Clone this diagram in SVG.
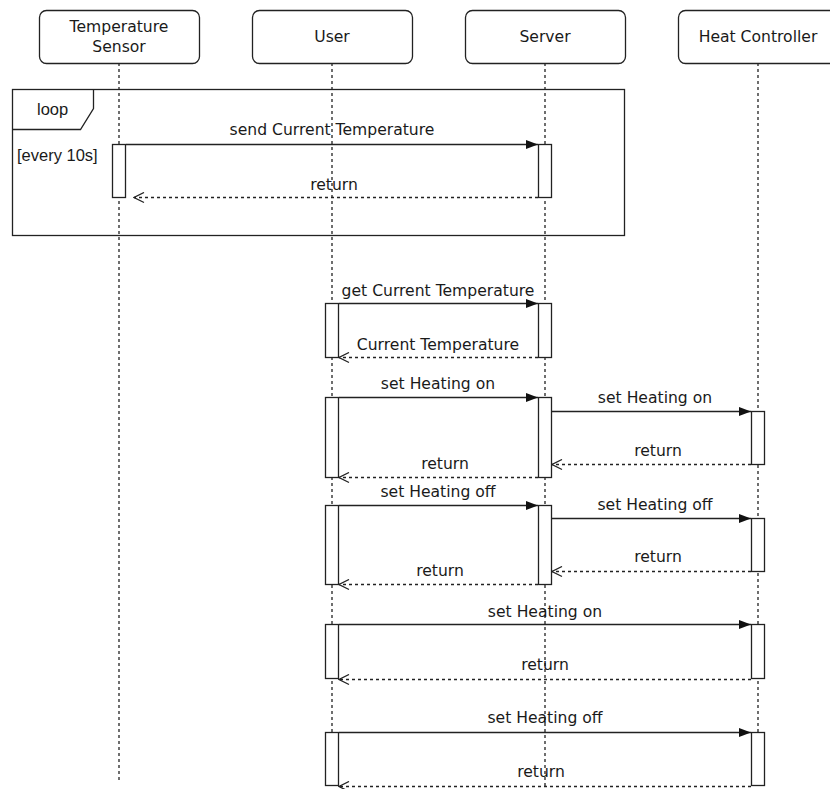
<svg xmlns="http://www.w3.org/2000/svg" width="830" height="789" viewBox="0 0 830 789">
  <style>
    .head { fill: #fff; stroke: #222; stroke-width: 1.3; }
    .lbl { font-family: "DejaVu Sans", Verdana, sans-serif; font-size: 15.6px; fill: #1a1a1a; text-anchor: middle; }
    .frm { font-family: "Liberation Sans", Arial, sans-serif; font-size: 16.5px; fill: #1a1a1a; }
    .life { stroke: #222; stroke-width: 1.3; stroke-dasharray: 3 3; fill: none; }
    .act { fill: #fff; stroke: #222; stroke-width: 1.3; }
    .msg { stroke: #222; stroke-width: 1.4; fill: none; marker-end: url(#solid); }
    .ret { stroke: #222; stroke-width: 1.3; stroke-dasharray: 3 3; fill: none; marker-end: url(#open); }
  </style>
  <defs>
    <marker id="solid" viewBox="0 0 12 9" refX="12" refY="4.5" markerWidth="12" markerHeight="9" markerUnits="userSpaceOnUse" orient="auto">
      <path d="M0,0 L12,4.5 L0,9 Z" fill="#111"/>
    </marker>
    <marker id="open" viewBox="0 0 12 12" refX="11" refY="6" markerWidth="12" markerHeight="12" markerUnits="userSpaceOnUse" orient="auto">
      <path d="M1,1 L11,6 L1,11" fill="none" stroke="#222" stroke-width="1.3"/>
    </marker>
  </defs>
  <rect width="830" height="789" fill="#fff"/>

  <!-- lifelines -->
  <g id="lifelines">
    <line class="life" x1="119" y1="63" x2="119" y2="782"/>
    <line class="life" x1="332" y1="63" x2="332" y2="789"/>
    <line class="life" x1="545" y1="63" x2="545" y2="789"/>
    <line class="life" x1="758" y1="63" x2="758" y2="789"/>
  </g>

  <!-- participants -->
  <g id="temperature-sensor">
    <rect class="head" x="39.5" y="10.5" width="160" height="53" rx="7"/>
    <text class="lbl" x="119" y="32">Temperature</text>
    <text class="lbl" x="119" y="52">Sensor</text>
  </g>
  <g id="user">
    <rect class="head" x="252.5" y="10.5" width="160" height="53" rx="7"/>
    <text class="lbl" x="332" y="42">User</text>
  </g>
  <g id="server">
    <rect class="head" x="465.5" y="10.5" width="160" height="53" rx="7"/>
    <text class="lbl" x="545" y="42">Server</text>
  </g>
  <g id="heat-controller">
    <rect class="head" x="678.5" y="10.5" width="160" height="53" rx="7"/>
    <text class="lbl" x="758" y="42">Heat Controller</text>
  </g>

  <!-- loop combined fragment -->
  <g id="loop-frame">
    <rect x="12.5" y="89.5" width="612" height="146" fill="none" stroke="#222" stroke-width="1.3"/>
    <path d="M12.5,129.5 L80.5,129.5 L93.5,108.5 L93.5,89.5" fill="none" stroke="#222" stroke-width="1.3"/>
    <text class="frm" x="37" y="115">loop</text>
    <text class="frm" x="17" y="161">[every 10s]</text>
  </g>

  <!-- activation bars -->
  <g id="activations">
    <rect class="act" x="112.5" y="144.5" width="13" height="53"/>
    <rect class="act" x="538.5" y="144.5" width="13" height="53"/>

    <rect class="act" x="325.5" y="303.5" width="13" height="54"/>
    <rect class="act" x="538.5" y="303.5" width="13" height="54"/>

    <rect class="act" x="325.5" y="397.5" width="13" height="80"/>
    <rect class="act" x="538.5" y="397.5" width="13" height="80"/>
    <rect class="act" x="751.5" y="411.5" width="13" height="53"/>

    <rect class="act" x="325.5" y="505.5" width="13" height="79"/>
    <rect class="act" x="538.5" y="505.5" width="13" height="79"/>
    <rect class="act" x="751.5" y="518.5" width="13" height="53"/>

    <rect class="act" x="325.5" y="624.5" width="13" height="54"/>
    <rect class="act" x="751.5" y="624.5" width="13" height="54"/>

    <rect class="act" x="325.5" y="732.5" width="13" height="53"/>
    <rect class="act" x="751.5" y="732.5" width="13" height="53"/>
  </g>

  <!-- messages -->
  <g id="connectors">
    <line class="msg" x1="126" y1="144.5" x2="538" y2="144.5"/>
    <text class="lbl" x="332" y="135">send Current Temperature</text>
    <line class="ret" x1="538" y1="197.5" x2="134" y2="197.5"/>
    <text class="lbl" x="334" y="190">return</text>

    <line class="msg" x1="339" y1="303.5" x2="538" y2="303.5"/>
    <text class="lbl" x="438" y="296">get Current Temperature</text>
    <line class="ret" x1="538" y1="357.5" x2="339" y2="357.5"/>
    <text class="lbl" x="438" y="350">Current Temperature</text>

    <line class="msg" x1="339" y1="397.5" x2="538" y2="397.5"/>
    <text class="lbl" x="438" y="389">set Heating on</text>
    <line class="msg" x1="552" y1="411.5" x2="751" y2="411.5"/>
    <text class="lbl" x="655" y="403">set Heating on</text>
    <line class="ret" x1="751" y1="464.5" x2="552" y2="464.5"/>
    <text class="lbl" x="658" y="456">return</text>
    <line class="ret" x1="538" y1="477.5" x2="339" y2="477.5"/>
    <text class="lbl" x="445" y="469">return</text>

    <line class="msg" x1="339" y1="505.5" x2="538" y2="505.5"/>
    <text class="lbl" x="438" y="497">set Heating off</text>
    <line class="msg" x1="552" y1="518.5" x2="751" y2="518.5"/>
    <text class="lbl" x="655" y="510">set Heating off</text>
    <line class="ret" x1="751" y1="571.5" x2="552" y2="571.5"/>
    <text class="lbl" x="658" y="562">return</text>
    <line class="ret" x1="538" y1="584.5" x2="339" y2="584.5"/>
    <text class="lbl" x="440" y="576">return</text>

    <line class="msg" x1="339" y1="624.5" x2="751" y2="624.5"/>
    <text class="lbl" x="545" y="617">set Heating on</text>
    <line class="ret" x1="751" y1="679.5" x2="339" y2="679.5"/>
    <text class="lbl" x="545" y="670">return</text>

    <line class="msg" x1="339" y1="732.5" x2="751" y2="732.5"/>
    <text class="lbl" x="545" y="723">set Heating off</text>
    <line class="ret" x1="751" y1="786.5" x2="339" y2="786.5"/>
    <text class="lbl" x="541" y="777">return</text>
  </g>
</svg>
